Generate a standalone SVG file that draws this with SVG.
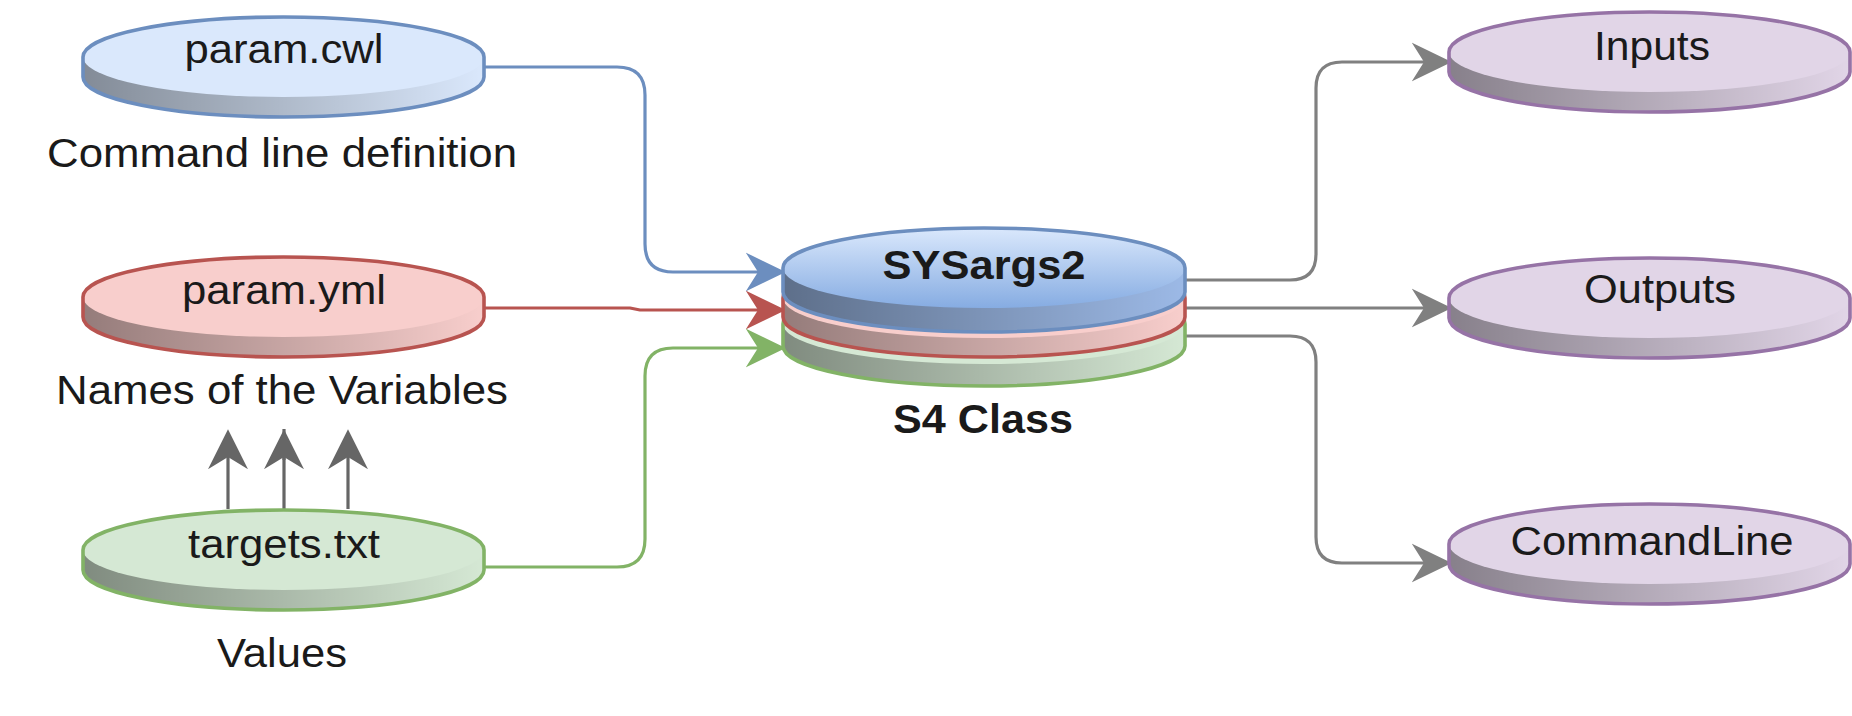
<svg xmlns="http://www.w3.org/2000/svg" width="1852" height="716" viewBox="0 0 1852 716">
<style>
text{font-family:"Liberation Sans",Arial,sans-serif;font-size:41.5px;fill:#1a1a1a;text-anchor:middle}
.b{font-weight:bold}
.edge{fill:none;stroke-width:3.2;stroke-linejoin:round}
.ol{fill:none;stroke-width:3.6}
.shade{fill:url(#shade)}
</style>
<defs>
<linearGradient id="shade" x1="0" y1="0" x2="1" y2="0">
<stop offset="0" stop-color="#000" stop-opacity="0.4"/>
<stop offset="1" stop-color="#000" stop-opacity="0"/>
</linearGradient>
<linearGradient id="sysTop" x1="0" y1="0" x2="0" y2="1">
<stop offset="0" stop-color="#dae8fc"/>
<stop offset="1" stop-color="#86ace2"/>
</linearGradient>
<marker id="aBlue" markerUnits="userSpaceOnUse" markerWidth="40" markerHeight="40" viewBox="0 0 36 35" refX="11" refY="17.5" orient="auto"><path d="M0,0 L36,17.5 L0,35 L11,17.5 Z" fill="#6c8ebf"/></marker>
<marker id="aRed" markerUnits="userSpaceOnUse" markerWidth="40" markerHeight="40" viewBox="0 0 36 35" refX="11" refY="17.5" orient="auto"><path d="M0,0 L36,17.5 L0,35 L11,17.5 Z" fill="#b85450"/></marker>
<marker id="aGreen" markerUnits="userSpaceOnUse" markerWidth="40" markerHeight="40" viewBox="0 0 36 35" refX="11" refY="17.5" orient="auto"><path d="M0,0 L36,17.5 L0,35 L11,17.5 Z" fill="#82b366"/></marker>
<marker id="aGray" markerUnits="userSpaceOnUse" markerWidth="40" markerHeight="40" viewBox="0 0 36 35" refX="11" refY="17.5" orient="auto"><path d="M0,0 L36,17.5 L0,35 L11,17.5 Z" fill="#808080"/></marker>
<marker id="aDark" markerUnits="userSpaceOnUse" markerWidth="40" markerHeight="40" viewBox="0 0 36 36" refX="11" refY="18" orient="auto"><path d="M0,0 L36,18 L0,36 L11,18 Z" fill="#666666"/></marker>
</defs>

<g id="connectors">
<path class="edge" stroke="#6c8ebf" d="M484,67 L617,67 Q645,67 645,95 L645,244 Q645,272 673,272 L758,272" marker-end="url(#aBlue)"/>
<path class="edge" stroke="#b85450" d="M484,308 L630,308 L640,310 L758,310" marker-end="url(#aRed)"/>
<path class="edge" stroke="#82b366" d="M484,567 L617,567 Q645,567 645,539 L645,376 Q645,348 673,348 L758,348" marker-end="url(#aGreen)"/>
<path class="edge" stroke="#808080" d="M1185,280 L1290,280 Q1316,280 1316,254 L1316,88 Q1316,62 1342,62 L1424,62" marker-end="url(#aGray)"/>
<path class="edge" stroke="#808080" d="M1185,308 L1424,308" marker-end="url(#aGray)"/>
<path class="edge" stroke="#808080" d="M1185,336 L1290,336 Q1316,336 1316,362 L1316,537 Q1316,563 1342,563 L1424,563" marker-end="url(#aGray)"/>
<path class="edge" stroke="#666666" d="M228,509 L228,457" marker-end="url(#aDark)"/>
<path class="edge" stroke="#666666" d="M284,509 L284,429"/>
<path class="edge" stroke="#666666" d="M284,460 L284,457" marker-end="url(#aDark)"/>
<path class="edge" stroke="#666666" d="M348,509 L348,457" marker-end="url(#aDark)"/>
</g>

<g id="param-cwl">
<path d="M83,57 A200.5,40 0 0 1 484,57 L484,77 A200.5,40 0 0 1 83,77 Z" fill="#dae8fc"/>
<path class="shade" d="M83,57 A200.5,40 0 0 1 484,57 L484,77 A200.5,40 0 0 1 83,77 Z"/>
<ellipse cx="283.5" cy="57" rx="200.5" ry="40" fill="#dae8fc"/>
<path class="ol" stroke="#6c8ebf" d="M83,57 A200.5,40 0 0 1 484,57 L484,77 A200.5,40 0 0 1 83,77 Z"/>
<text x="284" y="63" textLength="199" lengthAdjust="spacingAndGlyphs">param.cwl</text>
</g>
<text x="282" y="167" textLength="470" lengthAdjust="spacingAndGlyphs">Command line definition</text>

<g id="param-yml">
<path d="M83,297 A200.5,40 0 0 1 484,297 L484,317 A200.5,40 0 0 1 83,317 Z" fill="#f8cecc"/>
<path class="shade" d="M83,297 A200.5,40 0 0 1 484,297 L484,317 A200.5,40 0 0 1 83,317 Z"/>
<ellipse cx="283.5" cy="297" rx="200.5" ry="40" fill="#f8cecc"/>
<path class="ol" stroke="#b85450" d="M83,297 A200.5,40 0 0 1 484,297 L484,317 A200.5,40 0 0 1 83,317 Z"/>
<text x="284" y="304" textLength="204" lengthAdjust="spacingAndGlyphs">param.yml</text>
</g>
<text x="282" y="404" textLength="452" lengthAdjust="spacingAndGlyphs">Names of the Variables</text>

<g id="targets-txt">
<path d="M83,550 A200.5,40 0 0 1 484,550 L484,570 A200.5,40 0 0 1 83,570 Z" fill="#d5e8d4"/>
<path class="shade" d="M83,550 A200.5,40 0 0 1 484,550 L484,570 A200.5,40 0 0 1 83,570 Z"/>
<ellipse cx="283.5" cy="550" rx="200.5" ry="40" fill="#d5e8d4"/>
<path class="ol" stroke="#82b366" d="M83,550 A200.5,40 0 0 1 484,550 L484,570 A200.5,40 0 0 1 83,570 Z"/>
<text x="284" y="558" textLength="192" lengthAdjust="spacingAndGlyphs">targets.txt</text>
</g>
<text x="282" y="667" textLength="130" lengthAdjust="spacingAndGlyphs">Values</text>

<g id="sysargs2">
<g id="layer-green">
<path d="M783,324 A201,40 0 0 1 1185,324 L1185,346 A201,40 0 0 1 783,346 Z" fill="#d5e8d4"/>
<path class="shade" d="M783,324 A201,40 0 0 1 1185,324 L1185,346 A201,40 0 0 1 783,346 Z"/>
<ellipse cx="984" cy="324" rx="201" ry="40" fill="#d5e8d4"/>
<path class="ol" stroke="#82b366" d="M783,324 A201,40 0 0 1 1185,324 L1185,346 A201,40 0 0 1 783,346 Z"/>
</g>
<g id="layer-red">
<path d="M783,298 A201,40 0 0 1 1185,298 L1185,317 A201,40 0 0 1 783,317 Z" fill="#f8cecc"/>
<path class="shade" d="M783,298 A201,40 0 0 1 1185,298 L1185,317 A201,40 0 0 1 783,317 Z"/>
<ellipse cx="984" cy="298" rx="201" ry="40" fill="#f8cecc"/>
<path class="ol" stroke="#b85450" d="M783,298 A201,40 0 0 1 1185,298 L1185,317 A201,40 0 0 1 783,317 Z"/>
</g>
<g id="layer-blue">
<path d="M783,268 A201,40 0 0 1 1185,268 L1185,292 A201,40 0 0 1 783,292 Z" fill="#9cb9e6"/>
<path class="shade" d="M783,268 A201,40 0 0 1 1185,268 L1185,292 A201,40 0 0 1 783,292 Z"/>
<ellipse cx="984" cy="268" rx="201" ry="40" fill="url(#sysTop)"/>
<path class="ol" stroke="#6c8ebf" d="M783,268 A201,40 0 0 1 1185,268 L1185,292 A201,40 0 0 1 783,292 Z"/>
</g>
<text class="b" x="984" y="279" textLength="203" lengthAdjust="spacingAndGlyphs">SYSargs2</text>
</g>
<text class="b" x="983" y="433" textLength="180" lengthAdjust="spacingAndGlyphs">S4 Class</text>

<g id="inputs">
<path d="M1449,52 A200.5,40 0 0 1 1850,52 L1850,72 A200.5,40 0 0 1 1449,72 Z" fill="#e1d5e7"/>
<path class="shade" d="M1449,52 A200.5,40 0 0 1 1850,52 L1850,72 A200.5,40 0 0 1 1449,72 Z"/>
<ellipse cx="1649.5" cy="52" rx="200.5" ry="40" fill="#e1d5e7"/>
<path class="ol" stroke="#9673a6" d="M1449,52 A200.5,40 0 0 1 1850,52 L1850,72 A200.5,40 0 0 1 1449,72 Z"/>
<text x="1652" y="60" textLength="116" lengthAdjust="spacingAndGlyphs">Inputs</text>
</g>

<g id="outputs">
<path d="M1449,298 A200.5,40 0 0 1 1850,298 L1850,318 A200.5,40 0 0 1 1449,318 Z" fill="#e1d5e7"/>
<path class="shade" d="M1449,298 A200.5,40 0 0 1 1850,298 L1850,318 A200.5,40 0 0 1 1449,318 Z"/>
<ellipse cx="1649.5" cy="298" rx="200.5" ry="40" fill="#e1d5e7"/>
<path class="ol" stroke="#9673a6" d="M1449,298 A200.5,40 0 0 1 1850,298 L1850,318 A200.5,40 0 0 1 1449,318 Z"/>
<text x="1660" y="303" textLength="152" lengthAdjust="spacingAndGlyphs">Outputs</text>
</g>

<g id="commandline">
<path d="M1449,544 A200.5,40 0 0 1 1850,544 L1850,564 A200.5,40 0 0 1 1449,564 Z" fill="#e1d5e7"/>
<path class="shade" d="M1449,544 A200.5,40 0 0 1 1850,544 L1850,564 A200.5,40 0 0 1 1449,564 Z"/>
<ellipse cx="1649.5" cy="544" rx="200.5" ry="40" fill="#e1d5e7"/>
<path class="ol" stroke="#9673a6" d="M1449,544 A200.5,40 0 0 1 1850,544 L1850,564 A200.5,40 0 0 1 1449,564 Z"/>
<text x="1652" y="555" textLength="283" lengthAdjust="spacingAndGlyphs">CommandLine</text>
</g>
</svg>
